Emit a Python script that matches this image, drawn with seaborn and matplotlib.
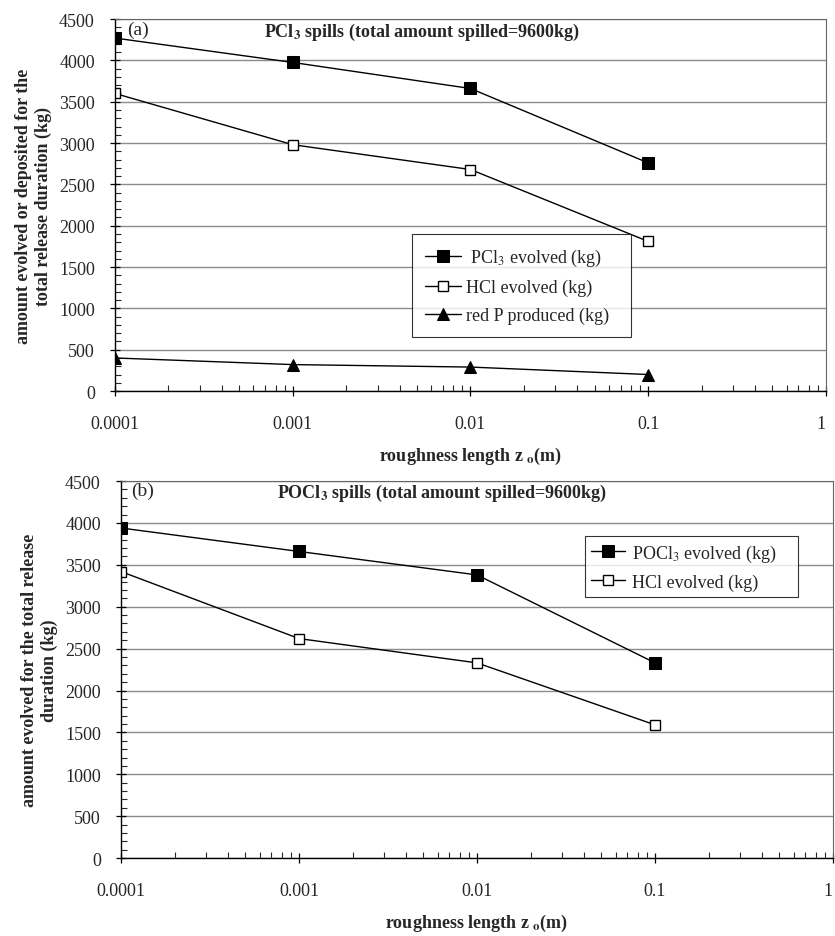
import numpy as np
import pandas as pd
import matplotlib
matplotlib.use("Agg")
import matplotlib.pyplot as plt
import seaborn as sns
from matplotlib.ticker import FixedLocator, FixedFormatter, LogLocator, MultipleLocator, NullFormatter

# ---- data ----
z0 = [0.0001, 0.001, 0.01, 0.1]
pcl3_evolved = [4270, 3975, 3660, 2760]
hcl_evolved_a = [3600, 2980, 2680, 1810]
redp_produced = [400, 320, 290, 200]

pocl3_evolved = [3940, 3660, 3380, 2330]
hcl_evolved_b = [3420, 2620, 2330, 1590]

xtick_vals = [0.0001, 0.001, 0.01, 0.1, 1]
xtick_labels = ["0.0001", "0.001", "0.01", "0.1", "1"]

sns.set_theme(style="white")
plt.rcParams["font.family"] = ["Liberation Serif", "DejaVu Serif"]
plt.rcParams["mathtext.fontset"] = "stix"

fig = plt.figure(figsize=(8.35, 9.37), dpi=100)
ax1 = fig.add_axes([0.1377, 0.5816, 0.8515, 0.397])
ax2 = fig.add_axes([0.1449, 0.0832, 0.8527, 0.4023])


def style_axes(ax):
    ax.set_xscale("log")
    ax.set_xlim(0.0001, 1)
    ax.set_ylim(0, 4500)
    ax.xaxis.set_major_locator(FixedLocator(xtick_vals))
    ax.xaxis.set_major_formatter(FixedFormatter(xtick_labels))
    ax.xaxis.set_minor_locator(LogLocator(base=10, subs=np.arange(2, 10)))
    ax.xaxis.set_minor_formatter(NullFormatter())
    ax.yaxis.set_major_locator(MultipleLocator(500))
    ax.yaxis.set_minor_locator(MultipleLocator(100))
    ax.tick_params(axis="both", which="major", direction="inout", length=7, width=0.9,
                   labelsize=13, color="black", bottom=True, left=True)
    ax.tick_params(axis="x", which="major", pad=14)
    ax.tick_params(axis="y", which="major", pad=11)
    ax.tick_params(axis="x", which="minor", direction="in", length=4, width=0.8, bottom=True)
    ax.tick_params(axis="y", which="minor", direction="in", length=4, width=0.8, left=True)
    ax.grid(axis="y", which="major", color="#8c8c8c", linewidth=1.0)
    ax.grid(axis="x", visible=False)
    for s in ["left", "bottom"]:
        ax.spines[s].set_color("black")
        ax.spines[s].set_linewidth(1.0)
    for s in ["top", "right"]:
        ax.spines[s].set_color("#666666")
        ax.spines[s].set_linewidth(0.8)
        ax.spines[s].set_linestyle((0, (1, 1)))
    fig.canvas.draw()
    labs = ax.get_xticklabels()
    labs[-1].set_horizontalalignment("right")


ms = 8
lw = 1.0
# ---- panel (a) ----
sns.lineplot(x=z0, y=pcl3_evolved, ax=ax1, color="black", marker="s", markersize=ms,
             markerfacecolor="black", markeredgecolor="black", linewidth=lw,
             label=r" PCl$_3$ evolved (kg)")
sns.lineplot(x=z0, y=hcl_evolved_a, ax=ax1, color="black", marker="s", markersize=ms - 0.5,
             markerfacecolor="white", markeredgecolor="black", markeredgewidth=1.0, linewidth=lw,
             label="HCl evolved (kg)")
sns.lineplot(x=z0, y=redp_produced, ax=ax1, color="black", marker="^", markersize=ms + 1,
             markerfacecolor="black", markeredgecolor="black", linewidth=lw,
             label="red P produced (kg)")
style_axes(ax1)
leg1 = ax1.legend(loc="lower left", bbox_to_anchor=(0.405, 0.121, 0.333, 0.26), mode="expand",
                  frameon=True, fancybox=False, edgecolor="black", fontsize=13,
                  handlelength=2.0, handletextpad=0.3, borderpad=0.7, labelspacing=0.6)
leg1.get_frame().set_linewidth(0.8)
ax1.text(0.017, 0.973, "(a)", transform=ax1.transAxes, ha="left", va="center", fontsize=14)
ax1.text(0.432, 0.968, r"PCl$_\mathbf{3}$ spills (total amount spilled=9600kg)",
         transform=ax1.transAxes, ha="center", va="center", fontsize=13, fontweight="bold")
ax1.set_xlabel(r"roughness length z $_{\mathbf{o}}$(m)", fontsize=13, fontweight="bold", labelpad=9)
ax1.set_ylabel("amount evolved or deposited for the\ntotal release duration (kg)",
               fontsize=13, fontweight="bold", labelpad=5)

# ---- panel (b) ----
sns.lineplot(x=z0, y=pocl3_evolved, ax=ax2, color="black", marker="s", markersize=ms,
             markerfacecolor="black", markeredgecolor="black", linewidth=lw,
             label=r"POCl$_3$ evolved (kg)")
sns.lineplot(x=z0, y=hcl_evolved_b, ax=ax2, color="black", marker="s", markersize=ms - 0.5,
             markerfacecolor="white", markeredgecolor="black", markeredgewidth=1.0, linewidth=lw,
             label="HCl evolved (kg)")
style_axes(ax2)
leg2 = ax2.legend(loc="upper left", bbox_to_anchor=(0.651, 0.854, 0.30, 0.0), mode="expand",
                  frameon=True, fancybox=False, edgecolor="black", fontsize=13,
                  handlelength=1.9, handletextpad=0.4, borderpad=0.35, labelspacing=0.55,
                  borderaxespad=0.0)
leg2.get_frame().set_linewidth(0.8)
ax2.text(0.014, 0.975, "(b)", transform=ax2.transAxes, ha="left", va="center", fontsize=14)
ax2.text(0.451, 0.971, r"POCl$_\mathbf{3}$ spills (total amount spilled=9600kg)",
         transform=ax2.transAxes, ha="center", va="center", fontsize=13, fontweight="bold")
ax2.set_xlabel(r"roughness length z $_{\mathbf{o}}$(m)", fontsize=13, fontweight="bold", labelpad=9)
ax2.set_ylabel("amount evolved for the total release\nduration (kg)",
               fontsize=13, fontweight="bold", labelpad=5)

fig.savefig("out.png", dpi=100)
